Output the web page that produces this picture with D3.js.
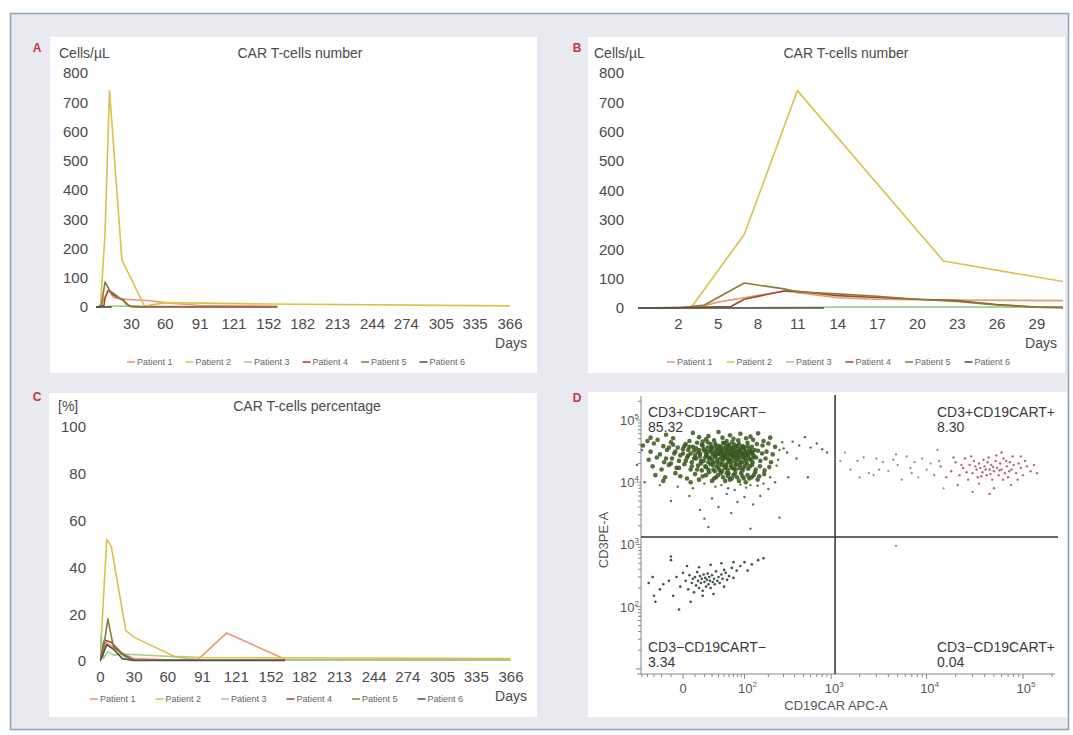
<!DOCTYPE html>
<meta charset='utf-8'>
<style>
body { margin: 0; background: #fff; }
svg { font-family: 'Liberation Sans', Arial, sans-serif; }
.tick text { fill: #4a4a4a; }
</style>
<svg width='1073' height='735'></svg>
<script src='https://cdn.jsdelivr.net/npm/d3@7/dist/d3.min.js'></script>
<script>
const patients = ['Patient 1', 'Patient 2', 'Patient 3', 'Patient 4', 'Patient 5', 'Patient 6'];
const patientColors = ['#ec9873', '#dcc24c', '#9fcf8c', '#a3472e', '#897c3d', '#4f4f4f'];

// CAR T-cells per µL, [day, cells/µL] (panel B is the first month of the same data)
const cellsP1 = [[-1,0],[2,0],[4,8],[5,20],[7,35],[10,58],[14,35],[17,30],[20,28],[23,27],[31,25],[45,22],[60,15],[91,5],[160,2]];
const cellsP2 = [[-1,0],[2,0],[3,2],[7,250],[11,740],[22,160],[31,90],[42,3],[60,15],[152,10],[366,4]];
const cellsP3 = [[-1,0],[4,0],[7,1],[14,3],[31,3],[60,2],[91,1],[160,1]];
const cellsP4 = [[-1,0],[4,3],[6,5],[7,30],[10,58],[11,57],[14,42],[17,36],[20,30],[23,25],[26,12],[29,3],[31,2],[40,0],[160,0]];
const cellsP5 = [[-1,0],[2,0],[4,10],[7,85],[10,65],[11,55],[14,48],[17,40],[20,30],[23,22],[26,10],[29,3],[31,1],[40,0]];
const cellsP6 = [[-1,0],[13,0]];

// CAR T-cells percentage, [day, %]
const pctP1 = [[0,0],[2,3],[5,8],[14,5],[30,1],[60,0.5],[87,0.5],[113,12],[166,0.5],[366,0.5]];
const pctP2 = [[0,0],[6,52],[10,49],[23,13],[31,10],[66,2],[91,1.5],[366,1]];
const pctP3 = [[0,0],[1,11],[3,1],[7,4],[12,2.5],[20,3],[60,2],[91,0.5],[366,0.3]];
const pctP4 = [[0,0],[4,9],[10,8],[20,3],[30,0.3],[165,0.3]];
const pctP5 = [[0,0],[3,5],[7,18],[12,6],[22,2],[30,0.3]];
const pctP6 = [[0,0],[2,2],[6,7],[12,5],[20,1],[30,0.2],[165,0.2]];

const dayTicksYear = [30, 60, 91, 121, 152, 182, 213, 244, 274, 305, 335, 366];
const dayTicksMonth = [2, 5, 8, 11, 14, 17, 20, 23, 26, 29];
const cellTicks = [0, 100, 200, 300, 400, 500, 600, 700, 800];
const pctTicks = [0, 20, 40, 60, 80, 100];

// flow cytometry events, [CD19CAR APC-A, CD3 PE-A]
const cd3posCarNeg = [
 [-15,58e3],[8,62e3],[25,55e3],[40,64e3],[62,57e3],[88,60e3],[120,54e3],[-35,52e3],[150,61e3],
 [-25,48e3],[-8,51e3],[5,46e3],[14,53e3],[22,49e3],[33,47e3],[47,52e3],[55,46e3],[70,50e3],[82,47e3],[105,51e3],[130,48e3],[175,46e3],[210,52e3],[-40,46e3],
 [-30,42e3],[-18,38e3],[-10,44e3],[-4,36e3],[2,41e3],[8,37e3],[12,43e3],[18,39e3],[24,44e3],[29,36e3],[35,41e3],[41,38e3],[48,43e3],[54,37e3],[60,40e3],[67,44e3],[75,36e3],[84,41e3],[95,38e3],[110,43e3],[125,37e3],[145,41e3],[170,39e3],[200,42e3],[240,37e3],[-48,39e3],
 [-35,31e3],[-22,28e3],[-14,33e3],[-7,29e3],[0,34e3],[4,27e3],[9,32e3],[15,29e3],[19,34e3],[23,27e3],[27,31e3],[31,28e3],[36,33e3],[40,29e3],[44,32e3],[50,27e3],[56,31e3],[61,28e3],[66,34e3],[72,30e3],[78,27e3],[85,32e3],[92,29e3],[100,33e3],[108,28e3],[118,31e3],[132,27e3],[150,32e3],[168,29e3],[190,31e3],[225,28e3],
 [-38,23e3],[-26,25e3],[-17,21e3],[-9,24e3],[-3,22e3],[3,25e3],[7,21e3],[11,24e3],[16,22e3],[21,25e3],[25,21e3],[30,23e3],[34,26e3],[38,21e3],[43,24e3],[47,22e3],[52,25e3],[58,21e3],[63,23e3],[69,26e3],[74,22e3],[80,24e3],[88,21e3],[96,25e3],[104,22e3],[115,24e3],[128,21e3],[142,25e3],[160,22e3],[185,24e3],[215,21e3],
 [-32,18e3],[-20,16e3],[-12,19e3],[-5,17e3],[1,19.5e3],[6,16e3],[13,18.5e3],[17,15.5e3],[22,17.5e3],[28,19.5e3],[32,16e3],[37,18e3],[42,15.5e3],[46,19e3],[51,17e3],[57,16e3],[64,18.5e3],[71,16.5e3],[77,19.5e3],[86,17e3],[94,15.5e3],[102,18.5e3],[112,16.5e3],[126,19e3],[140,16e3],[158,18e3],[180,15.5e3],[205,17.5e3],
 [-28,13e3],[-16,12e3],[-6,14e3],[3,11.5e3],[10,13.5e3],[18,12.5e3],[26,14.5e3],[33,11.5e3],[39,13e3],[48,12e3],[55,14e3],[62,11e3],[70,13e3],[79,12e3],[90,14e3],[98,11.5e3],[110,13e3],[124,12e3],[138,14.5e3],[155,12.5e3],[178,13.5e3],
 [-12,36e3],[-6,31e3],[-2,27e3],[1,38e3],[4,33e3],[6,29e3],[9,24e3],[11,35e3],[13,30e3],[15,26e3],[17,40e3],[19,22e3],[20,32e3],[22,28e3],[24,36e3],[26,24e3],[28,41e3],[29,33e3],[31,19e3],[33,30e3],
 [35,26e3],[36,38e3],[38,23e3],[39,34e3],[41,29e3],[42,20e3],[44,37e3],[45,27e3],[47,31e3],[49,24e3],[50,35e3],[52,29e3],[53,19e3],[55,33e3],[57,26e3],[58,39e3],[60,23e3],[62,31e3],[64,28e3],[65,21e3],
 [67,36e3],[69,30e3],[71,25e3],[73,33e3],[75,19e3],[77,29e3],[79,38e3],[81,23e3],[83,27e3],[86,34e3],[88,25e3],[90,30e3],[93,21e3],[96,28e3],[99,36e3],[101,24e3],[105,31e3],[108,20e3],[112,27e3],[116,34e3],
 [120,23e3],[124,29e3],[130,25e3],[136,33e3],[-15,24e3],[-10,20e3],[-8,40e3],[-3,17e3],[0,29e3],[2,22e3],[5,37e3],[7,18e3],[10,27e3],[12,16e3],[14,33e3],[16,20e3],[18,45e3],[21,18e3],[23,31e3],[25,16e3],
 [27,25e3],[30,36e3],[32,21e3],[34,15e3],[37,28e3],[40,17e3],[43,33e3],[46,15e3],[48,28e3],[51,42e3],[54,18e3],[56,24e3],[59,14e3],[61,35e3],[66,17e3],[68,26e3],[72,40e3],[76,16e3],[82,31e3],[87,19e3],
 [92,36e3],[97,17e3],[103,27e3],[110,38e3],[118,18e3],[127,31e3],
 [-18,10.5e3],[-2,12.5e3],[6,10e3],[14,11e3],[22,13e3],[30,10.5e3],[36,12e3],[44,14e3],[52,10.5e3],[58,12.5e3],[66,11.5e3],[74,14e3],[84,10.5e3],[94,12.5e3],[104,10e3],[116,11.5e3],[132,13e3],[148,11e3]
];
// sparse events of the same gate (tail and stragglers)
const cd3posCarNegSparse = [
 [-22,9e3],[-4,8.5e3],[8,8e3],[20,9.5e3],[35,8.5e3],[45,9e3],[58,8e3],[73,7.5e3],[88,9.2e3],[105,8.2e3],[120,9e3],[148,8.8e3],[175,9.5e3],[200,7.8e3],[-45,10e3],[240,10e3],
 [5,6e3],[30,5.5e3],[55,6.5e3],[-10,5e3],[80,4.8e3],[40,4e3],[100,5.8e3],[15,3.6e3],[65,3.2e3],[130,4.4e3],[20,2.6e3],[160,6e3],[210,12e3],[250,18.5e3],[260,23e3],[270,33e3],[290,44e3],[330,30e3],
 [-60,19e3],[-50,33e3],[25,1.9e3],[120,1.8e3],[270,2.7e3],[300,35e3],[380,45e3],[450,39e3],[520,53e3],[600,36e3],[420,24e3],[700,42e3],[900,30e3],[340,12e3],[560,12e3],[800,34e3]
];
const cd3negCarNeg = [
 [-30,150],[-28,120],[-22,190],[-18,230],[-12,260],[-8,150],[-5,300],[-2,210],[0,350],[2,260],[4,190],[5,320],[7,240],[8,280],[9,170],[10,300],[11,220],[12,360],[13,260],[14,200],
 [15,310],[16,240],[17,280],[18,180],[19,330],[20,250],[21,290],[22,210],[23,270],[24,340],[25,230],[26,300],[27,260],[28,200],[30,320],[31,250],[33,280],[34,230],[36,370],[38,260],
 [40,300],[42,240],[45,330],[47,280],[50,210],[53,350],[56,270],[60,310],[66,420],[70,290],[78,380],[88,450],[100,520],[110,380],[125,480],[150,560],[175,600],[-38,240],[-10,560],[-10,640],
 [3,450],[14,430],[28,470],[45,500],[70,520],[-32,300],[6,120],[18,150],[-3,90],[32,160],[50,390]
];
const cd3posCarPos = [
 [14e3,18e3],[18e3,15e3],[20e3,21e3],[22e3,13e3],[24e3,17e3],[25e3,24e3],[27e3,11e3],[28e3,19e3],[30e3,14e3],[31e3,22e3],[33e3,16e3],[34e3,12e3],[35e3,20e3],[36e3,17e3],[38e3,14.5e3],
 [39e3,23e3],[40e3,18e3],[42e3,13e3],[43e3,21e3],[45e3,16e3],[47e3,19e3],[48e3,11e3],[50e3,15e3],[52e3,22e3],[54e3,17e3],[56e3,13e3],[58e3,20e3],[60e3,16e3],[63e3,24e3],[65e3,14e3],
 [68e3,18e3],[70e3,12e3],[73e3,21e3],[76e3,16e3],[80e3,19e3],[85e3,14e3],[90e3,20e3],[95e3,17e3],[100e3,13e3],[110e3,18e3],[120e3,15e3],[23e3,19e3],[26e3,14.5e3],[29e3,26e3],[32e3,18e3],
 [37e3,12.5e3],[41e3,16e3],[44e3,25e3],[46e3,13.5e3],[49e3,17.5e3],[53e3,27e3],[57e3,15.5e3],[62e3,11e3],[67e3,22e3],[72e3,15e3],[78e3,26e3],[88e3,11e3],[105e3,22e3],[130e3,19e3],[16e3,12e3],
 [19e3,25e3],[21e3,9e3],[35e3,9.5e3],[50e3,8e3],[75e3,9e3],[45e3,6.5e3],[30e3,7e3],[95e3,26e3],[60e3,30e3],[140e3,14e3]
];
const scattered = [
 [1400,30e3],[1600,16e3],[1900,22e3],[2200,25e3],[2500,14e3],[2800,13e3],[3000,24e3],[3500,21e3],[4000,15e3],[4500,23e3],[5000,19e3],[5500,11e3],[6200,26e3],[6800,17e3],[7500,21e3],
 [8200,12e3],[9000,24e3],[10e3,16e3],[11e3,20e3],[12e3,13e3],[13e3,33e3],[15e3,8e3],[2000,12e3],[3200,16e3],[4800,28e3],[7000,14e3],[13.5e3,22e3],[1250,22e3],[4800,950]
];
const quadrantNames = ['CD3+CD19CART\u2212', 'CD3+CD19CART+', 'CD3\u2212CD19CART\u2212', 'CD3\u2212CD19CART+'];
const quadrantPcts = ['85.32', '8.30', '3.34', '0.04'];

const svg = d3.select('svg');
const ink = '#4a4a4a';

// background frame and panels
svg.append('rect').attr('x', 10.5).attr('y', 13.5).attr('width', 1058).attr('height', 716)
  .attr('fill', '#e8eaf0').attr('stroke', '#8ea2b9').attr('stroke-width', 1.5);
const panels = [[50, 37, 487, 336], [588, 37, 477, 336], [49, 393, 488, 324], [588, 392, 479, 325]];
svg.selectAll('rect.panel').data(panels).join('rect').attr('class', 'panel')
  .attr('x', d => d[0]).attr('y', d => d[1]).attr('width', d => d[2]).attr('height', d => d[3])
  .attr('fill', '#fff');
[['A', 37, 52], ['B', 577, 52], ['C', 37, 401], ['D', 577, 402]].forEach(([t, x, y]) => {
  svg.append('text').attr('x', x).attr('y', y).attr('text-anchor', 'middle')
    .attr('font-size', 12).attr('font-weight', 'bold').attr('fill', '#c8323c').text(t);
});

const line = (x, y) => d3.line().x(d => x(d[0])).y(d => y(d[1]));

function lineChart(o) {
  const g = svg.append('g');
  g.append('text').attr('x', o.unitX).attr('y', o.titleY).attr('font-size', 14).attr('fill', ink).text(o.unit);
  g.append('text').attr('x', o.titleX).attr('y', o.titleY).attr('text-anchor', 'middle')
    .attr('font-size', 14).attr('fill', ink).text(o.title);

  g.append('g').attr('transform', `translate(${o.yAxisX},0)`)
    .call(d3.axisLeft(o.y).tickValues(o.yTicks).tickSize(0).tickPadding(0))
    .call(a => a.select('.domain').remove())
    .selectAll('text').attr('font-size', 15).attr('font-family', 'inherit');

  g.append('g').attr('transform', `translate(0,${o.xAxisY})`)
    .call(d3.axisBottom(o.x).tickValues(o.xTicks).tickSize(0).tickPadding(0))
    .call(a => a.select('.domain').remove())
    .selectAll('text').attr('font-size', 15).attr('font-family', 'inherit');

  g.append('text').attr('x', o.daysX).attr('y', o.xAxisY + 30).attr('text-anchor', 'end')
    .attr('font-size', 14).attr('fill', ink).text('Days');

  const clipId = 'clip' + o.id;
  g.append('clipPath').attr('id', clipId).append('rect')
    .attr('x', o.x.range()[0]).attr('y', 0).attr('width', o.x.range()[1] - o.x.range()[0]).attr('height', 735);
  g.append('g').attr('clip-path', `url(#${clipId})`)
    .selectAll('path').data(o.series).join('path')
    .attr('d', line(o.x, o.y)).attr('fill', 'none')
    .attr('stroke', (d, i) => patientColors[i]).attr('stroke-width', 1.6)
    .attr('stroke-linejoin', 'round');

  const lg = g.append('g').selectAll('g').data(patients).join('g')
    .attr('transform', (d, i) => `translate(${o.legendX + i * o.legendStep},${o.legendY})`);
  lg.append('line').attr('x1', 0).attr('x2', 8).attr('y1', -3).attr('y2', -3)
    .attr('stroke', (d, i) => patientColors[i]).attr('stroke-width', 1.5);
  lg.append('text').attr('x', 10).attr('y', 0).attr('font-size', 9).attr('fill', '#666').text(d => d);
}

const cellsSeries = [cellsP1, cellsP2, cellsP3, cellsP4, cellsP5, cellsP6];
const pctSeries = [pctP1, pctP2, pctP3, pctP4, pctP5, pctP6];

lineChart({
  id: 'A', unit: 'Cells/\u00b5L', title: 'CAR T-cells number', unitX: 59, titleX: 300, titleY: 58,
  x: d3.scaleLinear().domain([-1, 370]).range([96, 514]), y: d3.scaleLinear().domain([0, 800]).range([307, 73]),
  xTicks: dayTicksYear, yTicks: cellTicks, yAxisX: 88, xAxisY: 318, daysX: 527,
  series: cellsSeries, legendX: 127, legendStep: 58.5, legendY: 365
});
lineChart({
  id: 'B', unit: 'Cells/\u00b5L', title: 'CAR T-cells number', unitX: 594, titleX: 846, titleY: 58,
  x: d3.scaleLinear().domain([-1, 31]).range([638, 1063]), y: d3.scaleLinear().domain([0, 800]).range([308, 73]),
  xTicks: dayTicksMonth, yTicks: cellTicks, yAxisX: 624, xAxisY: 318, daysX: 1057,
  series: cellsSeries, legendX: 667, legendStep: 59.5, legendY: 365
});
lineChart({
  id: 'C', unit: '[%]', title: 'CAR T-cells percentage', unitX: 58, titleX: 307, titleY: 411,
  x: d3.scaleLinear().domain([0, 370]).range([100, 515]), y: d3.scaleLinear().domain([0, 100]).range([661, 427]),
  xTicks: [0].concat(dayTicksYear), yTicks: pctTicks, yAxisX: 86, xAxisY: 671, daysX: 527,
  series: pctSeries, legendX: 90, legendStep: 65.5, legendY: 702
});

// panel D: flow cytometry dot plot
const fx = d3.scaleSymlog().constant(30).domain([0, 1e5]).range([683, 1023]);
const fy = d3.scaleLog().domain([100, 1e5]).range([606.7, 420]);
const gd = svg.append('g');
const axisY0 = 641, axisX0 = 674;

gd.append('line').attr('x1', axisY0).attr('x2', axisY0).attr('y1', 396).attr('y2', axisX0).attr('stroke', '#888');
gd.append('line').attr('x1', 637).attr('x2', 1055).attr('y1', axisX0).attr('y2', axisX0).attr('stroke', '#888');

const yMinor = [];
for (let k = 1; k <= 5; k++) for (let m = 1; m <= 9; m++) yMinor.push(m * Math.pow(10, k));
gd.selectAll('line.ym').data(yMinor.filter(v => v <= 2e5)).join('line').attr('class', 'ym')
  .attr('x1', axisY0).attr('x2', d => axisY0 - (Number.isInteger(Math.log10(d)) ? 5 : 3))
  .attr('y1', d => fy(d)).attr('y2', d => fy(d)).attr('stroke', '#888');

const xMinor = [-50, -40, -30, -20, -10, 0];
for (let k = 1; k <= 5; k++) for (let m = 1; m <= 9; m++) xMinor.push(m * Math.pow(10, k));
gd.selectAll('line.xm').data(xMinor.filter(v => v <= 2e5)).join('line').attr('class', 'xm')
  .attr('y1', axisX0).attr('y2', d => axisX0 + ([0, 100, 1e3, 1e4, 1e5].includes(d) ? 5 : 3))
  .attr('x1', d => fx(d)).attr('x2', d => fx(d)).attr('stroke', '#888');

function powLabel(sel, exp) {
  sel.append('tspan').text('10');
  sel.append('tspan').attr('dy', -6).attr('font-size', 8).text(exp);
}
[2, 3, 4, 5].forEach(e => {
  gd.append('text').attr('x', axisY0 - 2).attr('y', fy(Math.pow(10, e)) + 5).attr('text-anchor', 'end')
    .attr('font-size', 13).attr('fill', '#555').call(powLabel, e);
});
gd.append('text').attr('x', fx(0)).attr('y', 693).attr('text-anchor', 'middle')
  .attr('font-size', 13).attr('fill', '#555').text('0');
[2, 3, 4, 5].forEach(e => {
  gd.append('text').attr('x', fx(Math.pow(10, e)) + 3).attr('y', 693).attr('text-anchor', 'middle')
    .attr('font-size', 13).attr('fill', '#555').call(powLabel, e);
});
gd.append('text').attr('x', 836).attr('y', 710).attr('text-anchor', 'middle')
  .attr('font-size', 13).attr('fill', '#555').text('CD19CAR APC-A');
gd.append('text').attr('transform', 'translate(608,540) rotate(-90)').attr('text-anchor', 'middle')
  .attr('font-size', 13).attr('fill', '#555').text('CD3PE-A');

const dots = (data, color, r, op) => gd.append('g').selectAll('circle').data(data).join('circle')
  .attr('cx', d => fx(d[0])).attr('cy', d => fy(d[1])).attr('r', r).attr('fill', color).attr('fill-opacity', op);
dots(scattered, '#8a8a8a', 1.1, 1);
dots(cd3negCarNeg, '#3f5148', 1.3, 1);
dots(cd3posCarPos, '#b06a80', 1.2, 1);
dots(cd3posCarNegSparse, '#5a7045', 1.2, 1);
dots(cd3posCarNeg, '#37571c', 2.3, 0.85);

// quadrant gates
gd.append('line').attr('x1', fx(1100)).attr('x2', fx(1100)).attr('y1', 395).attr('y2', axisX0)
  .attr('stroke', '#333').attr('stroke-width', 1.5);
gd.append('line').attr('x1', axisY0).attr('x2', 1058).attr('y1', fy(1320)).attr('y2', fy(1320))
  .attr('stroke', '#333').attr('stroke-width', 1.5);

const qPos = [[648, 417], [937, 417], [648, 652], [937, 652]];
qPos.forEach(([x, y], i) => {
  const t = gd.append('text').attr('x', x).attr('y', y).attr('font-size', 14).attr('fill', '#3a3a3a');
  t.append('tspan').text(quadrantNames[i]);
  t.append('tspan').attr('x', x).attr('dy', 15).text(quadrantPcts[i]);
});
</script>
